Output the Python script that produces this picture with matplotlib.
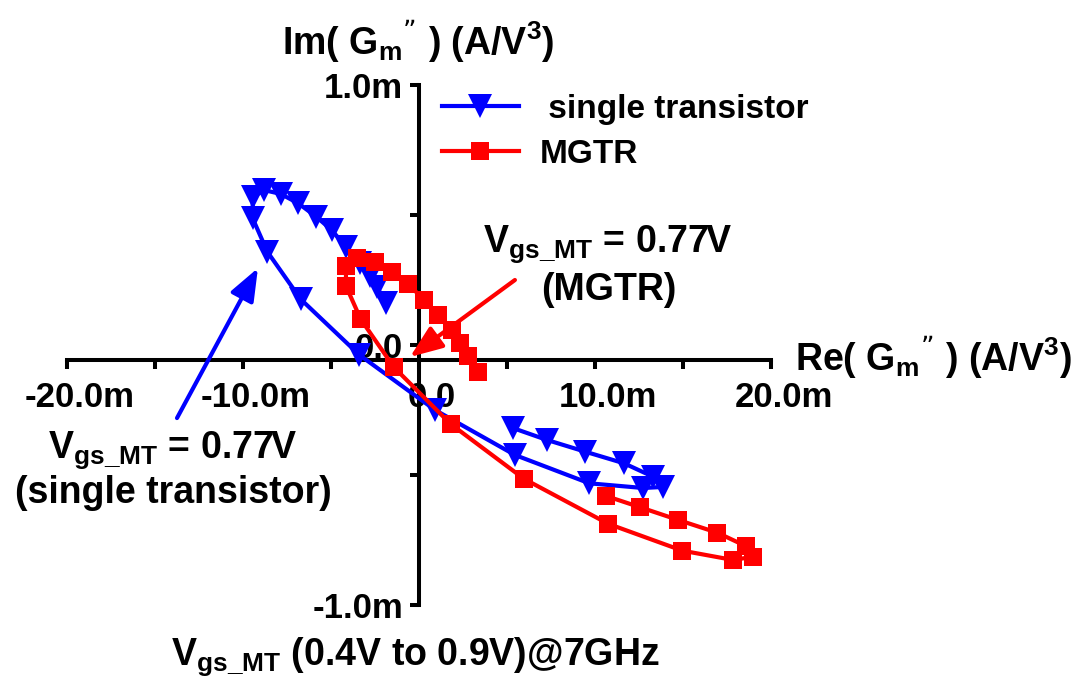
import matplotlib
matplotlib.use('Agg')
import matplotlib.pyplot as plt
import matplotlib.transforms as mtransforms
from matplotlib.ticker import FixedLocator, FixedFormatter

plt.rcParams['font.family'] = ['Liberation Sans', 'DejaVu Sans']
plt.rcParams['font.weight'] = 'bold'
plt.rcParams['mathtext.default'] = 'regular'

# Values in units of 1e-3 A/V^3 (the "m" on the axes)
single_re = [-1.88, -2.39, -2.78, -3.35, -4.15, -4.96, -5.85, -6.86, -7.86, -8.81,
             -9.45, -9.45, -8.62, -6.72, -3.39, 0.91, 5.45, 9.68, 12.73, 13.86,
             13.31, 11.65, 9.43, 7.26, 5.36]
single_im = [0.162, 0.223, 0.265, 0.315, 0.378, 0.442, 0.494, 0.545, 0.581, 0.596,
             0.568, 0.487, 0.359, 0.176, -0.038, -0.250, -0.423, -0.532, -0.550, -0.546,
             -0.507, -0.455, -0.410, -0.365, -0.320]

mgtr_re = [3.37, 2.80, 2.33, 1.86, 1.10, 0.28, -0.61, -1.55, -2.50, -3.51,
           -4.15, -4.15, -3.31, -1.42, 1.80, 5.97, 10.76, 14.96, 17.86, 18.99,
           18.56, 16.95, 14.73, 12.56, 10.64]
mgtr_im = [-0.103, -0.042, 0.007, 0.058, 0.115, 0.173, 0.235, 0.282, 0.320, 0.333,
           0.304, 0.227, 0.099, -0.086, -0.304, -0.515, -0.688, -0.791, -0.827, -0.814,
           -0.773, -0.722, -0.673, -0.624, -0.581]

x_major = [-20, -10, 0, 10, 20]
x_major_labels = ['-20.0m', '-10.0m', '0.0', '10.0m', '20.0m']
x_minor = [-15, -5, 5, 15]
y_major = [-1, 0, 1]
y_major_labels = ['-1.0m', '0.0', '1.0m']
y_minor = [-0.5, 0.5]

W, H = 1079, 682
fig = plt.figure(figsize=(W / 100, H / 100), dpi=100)
ax = fig.add_axes([67 / W, 77 / H, 704 / W, 520 / H])
ax.set_xlim(-20, 20)
ax.set_ylim(-1, 1)

blue = '#0000ff'
red = '#ff0000'
ax.plot(single_re, single_im, color=blue, lw=3.0, marker='v', ms=17.5,
        mec=blue, mfc=blue, mew=0, label=' single transistor', zorder=3)
ax.plot(mgtr_re, mgtr_im, color=red, lw=3.0, marker='s', ms=13.5,
        mec=red, mfc=red, mew=0, label='MGTR', zorder=4)

for s in ['top', 'right']:
    ax.spines[s].set_visible(False)
ax.spines['left'].set_position(('data', 0))
ax.spines['bottom'].set_position(('data', -0.057))
for s in ['left', 'bottom']:
    ax.spines[s].set_linewidth(2.9)
    ax.spines[s].set_zorder(2.5)

ax.xaxis.set_major_locator(FixedLocator(x_major))
ax.xaxis.set_major_formatter(FixedFormatter(x_major_labels))
ax.xaxis.set_minor_locator(FixedLocator(x_minor))
ax.yaxis.set_major_locator(FixedLocator(y_major))
ax.yaxis.set_major_formatter(FixedFormatter(y_major_labels))
ax.yaxis.set_minor_locator(FixedLocator(y_minor))
ax.tick_params(axis='both', which='both', direction='out', length=6.5, width=2.9,
               labelsize=25, colors='black')
ax.tick_params(axis='x', which='major', pad=9)
ax.tick_params(axis='y', which='major', pad=5)
ax.set_axisbelow(True)
shift = mtransforms.ScaledTranslation(13 / 100, 0, fig.dpi_scale_trans)
for lab in ax.get_xticklabels():
    lab.set_fontweight('bold')
    lab.set_transform(lab.get_transform() + shift)
for lab in ax.get_yticklabels():
    lab.set_fontweight('bold')

ax.legend(loc='upper left', bbox_to_anchor=(442 / W, 1 - 94 / H),
          bbox_transform=fig.transFigure, frameon=False, fontsize=24,
          handlelength=2.3, handletextpad=0.62, labelspacing=0.42,
          borderpad=0, borderaxespad=0, numpoints=1)

# annotation arrows
ax.annotate('', xy=(-9.15, 0.296), xytext=(-13.75, -0.281),
            arrowprops=dict(arrowstyle='-|>,head_length=0.9,head_width=0.35',
                            color=blue, lw=3.0, mutation_scale=22, shrinkA=0, shrinkB=0),
            zorder=5)
ax.annotate('', xy=(-0.51, -0.046), xytext=(5.45, 0.25),
            arrowprops=dict(arrowstyle='-|>,head_length=0.9,head_width=0.35',
                            color=red, lw=3.0, mutation_scale=22, shrinkA=0, shrinkB=0),
            zorder=5)

def ftext(x, y, s, size=27, **kw):
    fig.text(x / W, 1 - y / H, s, fontsize=size, fontweight='bold', **kw)

ftext(418, 40, r'Im( G$_{m}$$^{”}$ ) (A/V$^{3}$)', ha='center', va='center')
ftext(795, 357, r'Re( G$_{m}$$^{”}$ ) (A/V$^{3}$)', ha='left', va='center')
ftext(608, 244, r'V$_{gs\_MT}$ = 0.77V', ha='center', va='center')
ftext(609, 290, '(MGTR)', ha='center', va='center')
ftext(173, 450, r'V$_{gs\_MT}$ = 0.77V', ha='center', va='center')
ftext(173, 493, '(single transistor)', ha='center', va='center')
ftext(415, 657, r'V$_{gs\_MT}$ (0.4V to 0.9V)@7GHz', ha='center', va='center')

fig.savefig('out.png', dpi=100)
